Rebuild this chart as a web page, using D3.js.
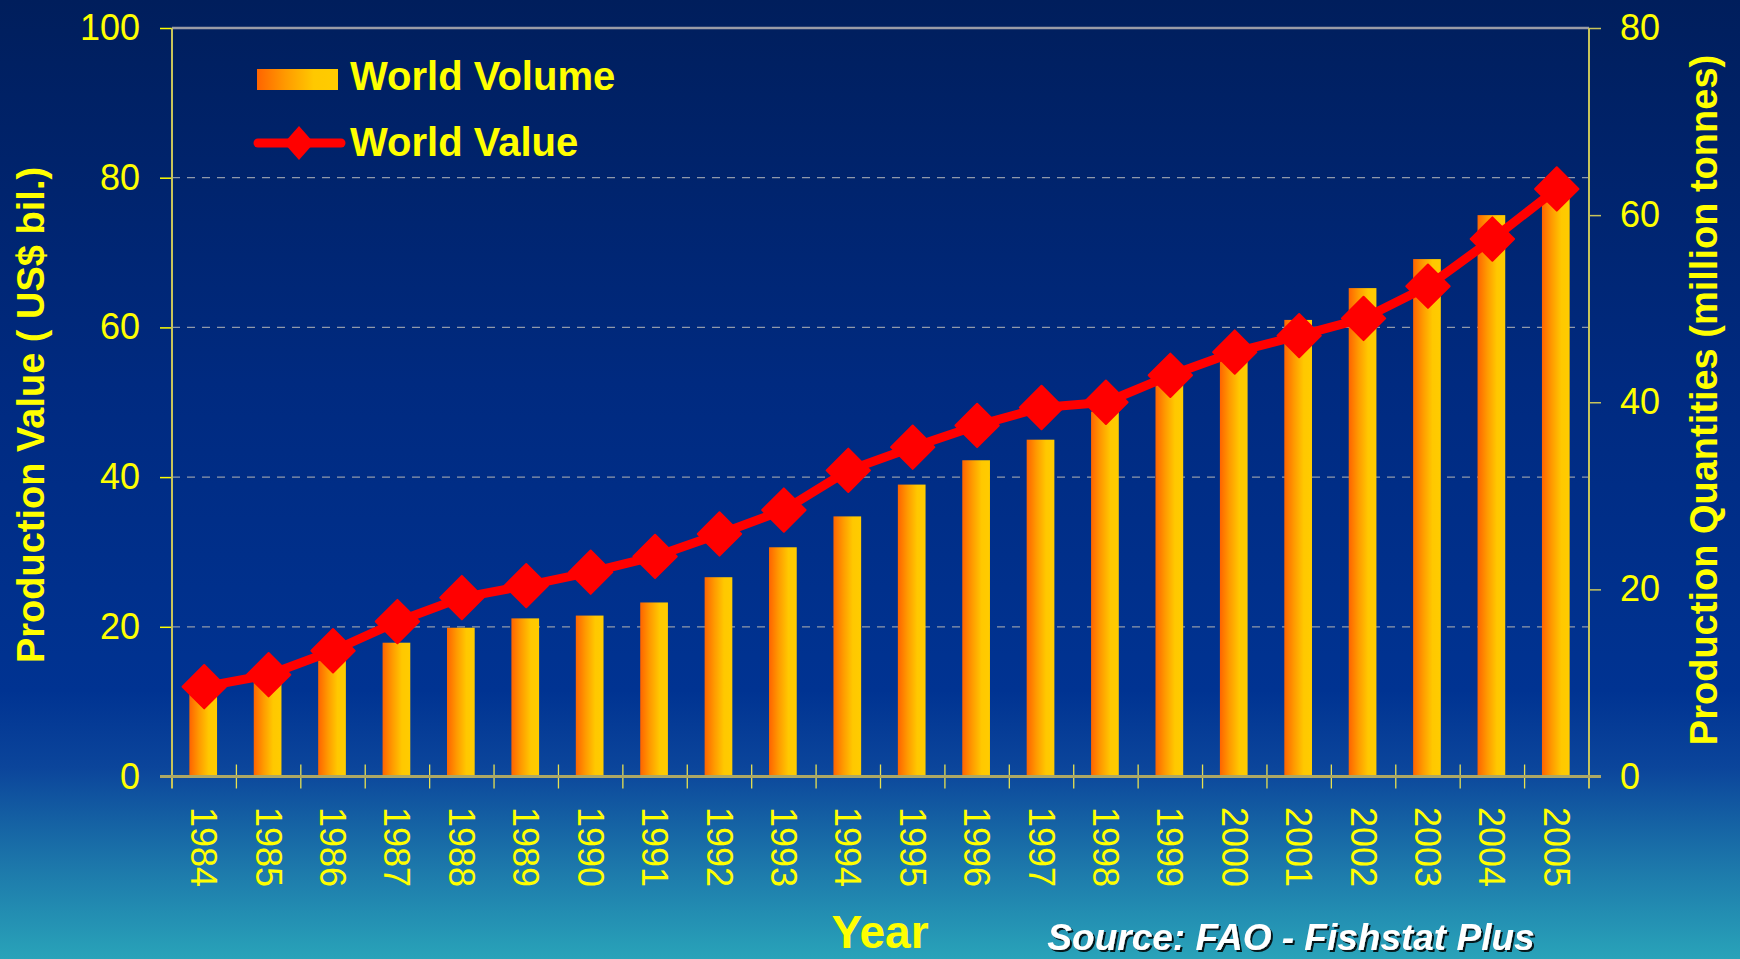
<!DOCTYPE html>
<html>
<head>
<meta charset="utf-8">
<script src="https://cdn.jsdelivr.net/npm/d3@7"></script>
<style>
  html, body { margin: 0; padding: 0; background: #001E5C; }
  svg { display: block; }
  text { font-family: "Liberation Sans", Arial, sans-serif; }
</style>
</head>
<body>
<svg id="chart" width="1740" height="959"></svg>
<script>
// ---------- data ----------
const years = ["1984","1985","1986","1987","1988","1989","1990","1991","1992","1993","1994",
               "1995","1996","1997","1998","1999","2000","2001","2002","2003","2004","2005"];
// World Volume (million tonnes, right axis)
const worldVolume = [10.4, 10.1, 12.4, 14.3, 15.9, 16.9, 17.2, 18.6, 21.3, 24.5, 27.8,
                     31.2, 33.8, 36.0, 39.0, 42.0, 44.8, 48.8, 52.2, 55.3, 60.0, 62.2];
// World Value (US$ bil., left axis)
const worldValue = [12.0, 13.6, 16.8, 20.7, 23.9, 25.5, 27.3, 29.4, 32.4, 35.6, 40.9,
                    44.0, 46.9, 49.3, 50.0, 53.6, 56.7, 58.9, 61.2, 65.5, 71.8, 78.5];
const leftTicks = [0, 20, 40, 60, 80, 100];
const rightTicks = [0, 20, 40, 60, 80];
const gridTicks = [20, 40, 60, 80];
const legendLabels = ["World Volume", "World Value"];
const leftTitle = "Production Value ( US$ bil.)";
const rightTitle = "Production Quantities (million tonnes)";
const xTitle = "Year";
const sourceText = "Source: FAO - Fishstat Plus";

// ---------- layout ----------
const W = 1740, H = 959;
const plot = { left: 172, right: 1589, top: 28, bottom: 776.5 };
const YEL = "#FFFF00";

const svg = d3.select("#chart");
const defs = svg.append("defs");

const bg = defs.append("linearGradient").attr("id", "bg")
  .attr("x1", 0).attr("y1", 0).attr("x2", 0).attr("y2", 1);
[[0, "#001E5C"], [0.4, "#002A80"], [0.72, "#003392"], [0.8, "#0B459B"],
 [0.9, "#1C76AA"], [1, "#29A3B9"]].forEach(s =>
  bg.append("stop").attr("offset", s[0]).attr("stop-color", s[1]));

const barGrad = defs.append("linearGradient").attr("id", "barGrad")
  .attr("x1", 0).attr("y1", 0).attr("x2", 1).attr("y2", 0);
[[0, "#FF6400"], [0.35, "#FF9A00"], [0.7, "#FFC800"], [1, "#FFCC00"]].forEach(s =>
  barGrad.append("stop").attr("offset", s[0]).attr("stop-color", s[1]));

const shadow = defs.append("filter").attr("id", "shadow")
  .attr("x", "-5%").attr("y", "-20%").attr("width", "115%").attr("height", "160%");
shadow.append("feDropShadow").attr("dx", 2).attr("dy", 2).attr("stdDeviation", 0.6)
  .attr("flood-color", "#000000").attr("flood-opacity", 0.85);

svg.append("rect").attr("width", W).attr("height", H).attr("fill", "url(#bg)");

// ---------- scales ----------
const x = d3.scaleBand().domain(years).range([plot.left, plot.right]).padding(0);
const yL = d3.scaleLinear().domain([0, 100]).range([plot.bottom, plot.top]);
const yR = d3.scaleLinear().domain([0, 80]).range([plot.bottom, plot.top]);

// ---------- gridlines ----------
svg.append("g").selectAll("line").data(gridTicks).join("line")
  .attr("x1", plot.left).attr("x2", plot.right)
  .attr("y1", d => yL(d)).attr("y2", d => yL(d))
  .attr("stroke", "#9099AA").attr("stroke-width", 1.2)
  .attr("stroke-dasharray", "8,7");

// top border
svg.append("line").attr("x1", plot.left).attr("x2", plot.right)
  .attr("y1", plot.top).attr("y2", plot.top)
  .attr("stroke", "#9A9CA6").attr("stroke-width", 2.5);

// ---------- bars ----------
const bw = x.bandwidth() * 0.43;
svg.append("g").selectAll("rect").data(years).join("rect")
  .attr("x", d => x(d) + x.bandwidth() / 2 - bw / 2 - 1)
  .attr("width", bw)
  .attr("y", (d, i) => yR(worldVolume[i]))
  .attr("height", (d, i) => yR(0) - yR(worldVolume[i]))
  .attr("fill", "url(#barGrad)");

// ---------- axes ----------
// left axis
const gL = svg.append("g").attr("transform", `translate(${plot.left},0)`)
  .call(d3.axisLeft(yL).tickValues(leftTicks).tickSize(12).tickPadding(20));
gL.select(".domain").remove();
gL.selectAll(".tick line").attr("stroke", YEL).attr("stroke-width", 1.5);
gL.selectAll(".tick text").attr("fill", YEL).attr("font-size", 36)
  .attr("font-family", "'Liberation Sans', Arial, sans-serif");

// right axis
const gR = svg.append("g").attr("transform", `translate(${plot.right},0)`)
  .call(d3.axisRight(yR).tickValues(rightTicks).tickSize(12).tickPadding(19));
gR.select(".domain").remove();
gR.selectAll(".tick line").attr("stroke", "#C8C45A").attr("stroke-width", 1.5);
gR.selectAll(".tick text").attr("fill", YEL).attr("font-size", 36)
  .attr("font-family", "'Liberation Sans', Arial, sans-serif");

// axis lines
svg.append("line").attr("x1", plot.left).attr("x2", plot.left)
  .attr("y1", plot.top).attr("y2", plot.bottom + 12)
  .attr("stroke", "#C8C45A").attr("stroke-width", 2);
svg.append("line").attr("x1", plot.right).attr("x2", plot.right)
  .attr("y1", plot.top).attr("y2", plot.bottom + 12)
  .attr("stroke", "#C8C45A").attr("stroke-width", 2);

// bottom axis (category boundaries)
const gB = svg.append("g").attr("transform", `translate(0,${plot.bottom})`)
  .call(d3.axisBottom(x).tickSize(0).tickPadding(0));
gB.select(".domain").remove();
gB.selectAll(".tick text").remove();
svg.append("g").selectAll("line").data(years.slice(1)).join("line")
  .attr("x1", d => x(d)).attr("x2", d => x(d))
  .attr("y1", plot.bottom - 12).attr("y2", plot.bottom + 12)
  .attr("stroke", "#E8E050").attr("stroke-width", 1.3);
svg.append("line").attr("x1", plot.left - 12).attr("x2", plot.right + 12)
  .attr("y1", plot.bottom).attr("y2", plot.bottom)
  .attr("stroke", "#ADA865").attr("stroke-width", 3);

// x tick labels (rotated 90)
svg.append("g").selectAll("text").data(years).join("text")
  .attr("transform", d => `translate(${x(d) + x.bandwidth() / 2},807) rotate(90)`)
  .attr("dy", "0.36em")
  .attr("text-anchor", "start")
  .attr("fill", YEL).attr("font-size", 36)
  .text(d => d);

// ---------- line ----------
const line = d3.line()
  .x((d, i) => x(years[i]) + x.bandwidth() / 2)
  .y(d => yL(d));
svg.append("path").datum(worldValue)
  .attr("d", line).attr("fill", "none")
  .attr("stroke", "#FF0000").attr("stroke-width", 9)
  .attr("stroke-linejoin", "round");

const diamond = d3.symbol().type(d3.symbolSquare).size(940);
svg.append("g").selectAll("path").data(worldValue).join("path")
  .attr("transform", (d, i) =>
    `translate(${x(years[i]) + x.bandwidth() / 2},${yL(d)}) rotate(45)`)
  .attr("d", diamond)
  .attr("fill", "#FF0000").attr("stroke", "#FF0000")
  .attr("stroke-width", 2).attr("stroke-linejoin", "round");

// ---------- legend ----------
const lg = svg.append("g");
lg.append("rect").attr("x", 257).attr("y", 69).attr("width", 81).attr("height", 21)
  .attr("fill", "url(#barGrad)");
lg.append("line").attr("x1", 258).attr("x2", 341).attr("y1", 143).attr("y2", 143)
  .attr("stroke", "#FF0000").attr("stroke-width", 9).attr("stroke-linecap", "round");
lg.append("path")
  .attr("d", "M299,126 L314,143 L299,160 L284,143 Z")
  .attr("fill", "#FF0000");
lg.selectAll("text").data(legendLabels).join("text")
  .attr("x", 350).attr("y", (d, i) => i === 0 ? 90 : 156)
  .attr("fill", YEL).attr("font-size", 40).attr("font-weight", "bold")
  .text(d => d);

// ---------- titles ----------
svg.append("text")
  .attr("transform", `translate(44,415) rotate(-90)`)
  .attr("text-anchor", "middle")
  .attr("fill", YEL).attr("font-size", 38).attr("font-weight", "bold")
  .text(leftTitle);
svg.append("text")
  .attr("transform", `translate(1717,400) rotate(-90)`)
  .attr("text-anchor", "middle")
  .attr("fill", YEL).attr("font-size", 38).attr("font-weight", "bold")
  .text(rightTitle);
svg.append("text")
  .attr("x", 880).attr("y", 948)
  .attr("text-anchor", "middle")
  .attr("fill", YEL).attr("font-size", 46).attr("font-weight", "bold")
  .text(xTitle);
svg.append("text")
  .attr("x", 1291).attr("y", 950)
  .attr("text-anchor", "middle")
  .attr("fill", "#FFFFFF").attr("font-size", 37).attr("font-weight", "bold")
  .attr("font-style", "italic")
  .attr("filter", "url(#shadow)")
  .text(sourceText);
</script>
</body>
</html>
